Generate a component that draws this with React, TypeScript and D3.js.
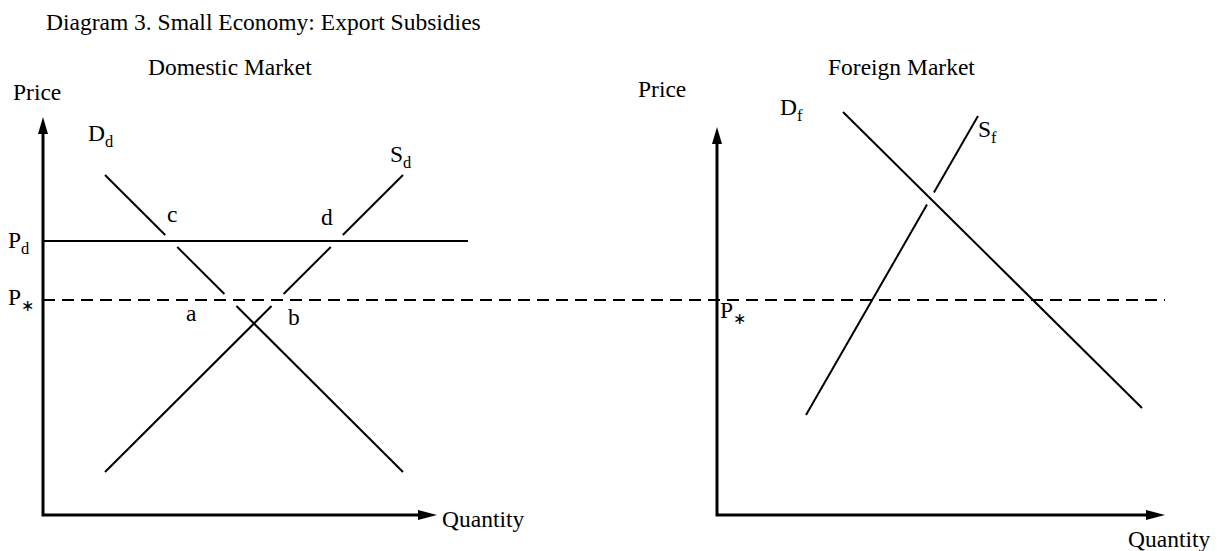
import React from "react";
import * as d3 from "d3";

// ---- data (quantity / price units) ----
const domesticDemand = [
  { q: 15.5, p: 85 },
  { q: 90, p: 10.75 },
];
const domesticSupply = [
  { q: 15.5, p: 10.75 },
  { q: 90, p: 85 },
];
const domesticPriceLevel = 68.5; // P_d
const worldPriceLevel = 53.75; // P_*
const foreignDemand = [
  { q: 31.5, p: 100.75 },
  { q: 106.25, p: 26.75 },
];
const foreignSupply = [
  { q: 22.25, p: 25 },
  { q: 65.25, p: 99.75 },
];
const domesticAxisMax = { q: 98.5, p: 99.5 };
const foreignAxisMax = { q: 112, p: 97 };
const domesticPriceLineEnd = 106.25;

const labelTexts = {
  title: "Diagram 3. Small Economy: Export Subsidies",
  domestic: "Domestic Market",
  foreign: "Foreign Market",
  price: "Price",
  quantity: "Quantity",
};

type Pt = [number, number];

const W = 1221;
const H = 551;

const yScale = d3.scaleLinear().domain([0, 100]).range([515, 115]);
const xDom = d3.scaleLinear().domain([0, 100]).range([43, 443]);
const xFor = d3.scaleLinear().domain([0, 100]).range([717, 1117]);

const lerp = (a: Pt, b: Pt, t: number): Pt => [a[0] + (b[0] - a[0]) * t, a[1] + (b[1] - a[1]) * t];

function splitAtYs(a: Pt, b: Pt, ys: number[], half: number): Pt[][] {
  const iv = ys
    .map((y) => {
      const t1 = (y - half - a[1]) / (b[1] - a[1]);
      const t2 = (y + half - a[1]) / (b[1] - a[1]);
      return [Math.min(t1, t2), Math.max(t1, t2)];
    })
    .sort((u, v) => u[0] - v[0]);
  const segs: Pt[][] = [];
  let t = 0;
  for (const [s, e] of iv) {
    if (s > t) segs.push([lerp(a, b, t), lerp(a, b, Math.min(s, 1))]);
    t = Math.max(t, e);
  }
  if (t < 1) segs.push([lerp(a, b, t), lerp(a, b, 1)]);
  return segs;
}

function intersectY(a: Pt, b: Pt, c: Pt, d: Pt): number {
  const x1 = a[0], y1 = a[1], x2 = b[0], y2 = b[1];
  const x3 = c[0], y3 = c[1], x4 = d[0], y4 = d[1];
  const den = (x1 - x2) * (y3 - y4) - (y1 - y2) * (x3 - x4);
  const t = ((x1 - x3) * (y3 - y4) - (y1 - y3) * (x3 - x4)) / den;
  return y1 + t * (y2 - y1);
}

const line = d3.line<Pt>();

const FONT = "'Liberation Serif', 'Times New Roman', serif";
const FS = 23.5;

function Label({ x, y, main, sub, size = FS }: { x: number; y: number; main: string; sub?: string; size?: number }) {
  return (
    <text x={x} y={y} fontFamily={FONT} fontSize={size} fill="#000">
      {main}
      {sub ? (
        <tspan fontSize={size * 0.7} dy={6}>
          {sub}
        </tspan>
      ) : null}
    </text>
  );
}

export default function App() {
  const pd = yScale(domesticPriceLevel);
  const ps = yScale(worldPriceLevel);

  const dD: Pt[] = domesticDemand.map((d) => [xDom(d.q), yScale(d.p)]);
  const dS: Pt[] = domesticSupply.map((d) => [xDom(d.q), yScale(d.p)]);
  const fD: Pt[] = foreignDemand.map((d) => [xFor(d.q), yScale(d.p)]);
  const fS: Pt[] = foreignSupply.map((d) => [xFor(d.q), yScale(d.p)]);

  const domSegs = [
    ...splitAtYs(dD[0], dD[1], [pd, ps], 6),
    ...splitAtYs(dS[0], dS[1], [pd, ps], 6),
  ];
  const crossY = intersectY(fD[0], fD[1], fS[0], fS[1]);
  const forSegs = [[fD[0], fD[1]] as Pt[], ...splitAtYs(fS[0], fS[1], [crossY], 6)];

  const ox = xDom(0);
  const oy = yScale(0);
  const fx = xFor(0);
  const dTipX = xDom(domesticAxisMax.q);
  const dTipY = yScale(domesticAxisMax.p);
  const fTipX = xFor(foreignAxisMax.q);
  const fTipY = yScale(foreignAxisMax.p);

  const arrowUp = (x: number, y: number) => `${x},${y} ${x - 5},${y + 17} ${x + 5},${y + 17}`;
  const arrowRight = (x: number, y: number) => `${x},${y} ${x - 19},${y - 5} ${x - 19},${y + 5}`;

  return (
    <svg width={W} height={H} style={{ position: "absolute", left: 0, top: 0, background: "#fff" }}>
      <rect width={W} height={H} fill="#fff" />
      <text x={46} y={30} fontFamily={FONT} fontSize={FS}>{labelTexts.title}</text>
      <text x={148} y={75} fontFamily={FONT} fontSize={FS}>{labelTexts.domestic}</text>
      <text x={828} y={75} fontFamily={FONT} fontSize={FS}>{labelTexts.foreign}</text>
      <text x={13} y={100} fontFamily={FONT} fontSize={FS}>{labelTexts.price}</text>
      <text x={638} y={97} fontFamily={FONT} fontSize={FS}>{labelTexts.price}</text>
      <text x={442} y={527} fontFamily={FONT} fontSize={FS}>{labelTexts.quantity}</text>
      <text x={1128} y={547} fontFamily={FONT} fontSize={FS}>{labelTexts.quantity}</text>

      {/* axes */}
      <g stroke="#000" strokeWidth={3} fill="none">
        <path d={line([[ox, dTipY + 12], [ox, oy], [dTipX - 12, oy]])!} strokeLinejoin="miter" />
        <path d={line([[fx, fTipY + 12], [fx, oy], [fTipX - 12, oy]])!} strokeLinejoin="miter" />
      </g>
      <g fill="#000">
        <polygon points={arrowUp(ox, dTipY)} />
        <polygon points={arrowRight(dTipX, oy)} />
        <polygon points={arrowUp(fx, fTipY)} />
        <polygon points={arrowRight(fTipX, oy)} />
      </g>

      {/* price lines */}
      <path d={line([[ox, pd], [xDom(domesticPriceLineEnd), pd]])!} stroke="#000" strokeWidth={2} />
      <path
        d={line([[ox, ps], [fTipX, ps]])!}
        stroke="#000"
        strokeWidth={2}
        strokeDasharray="12,7"
      />

      {/* curves */}
      <g stroke="#000" strokeWidth={2} fill="none">
        {domSegs.map((s, i) => (
          <path key={"d" + i} d={line(s)!} />
        ))}
        {forSegs.map((s, i) => (
          <path key={"f" + i} d={line(s)!} />
        ))}
      </g>

      {/* labels */}
      <Label x={88} y={141} main="D" sub="d" />
      <Label x={390} y={162} main="S" sub="d" />
      <Label x={8} y={248} main="P" sub="d" />
      <Label x={8} y={305} main="P" sub="∗" />
      <Label x={167} y={222} main="c" />
      <Label x={321} y={225} main="d" />
      <Label x={186} y={321} main="a" />
      <Label x={288} y={325} main="b" />
      <Label x={780} y={115} main="D" sub="f" />
      <Label x={978} y={137} main="S" sub="f" />
      <Label x={720} y={318} main="P" sub="∗" />
    </svg>
  );
}
